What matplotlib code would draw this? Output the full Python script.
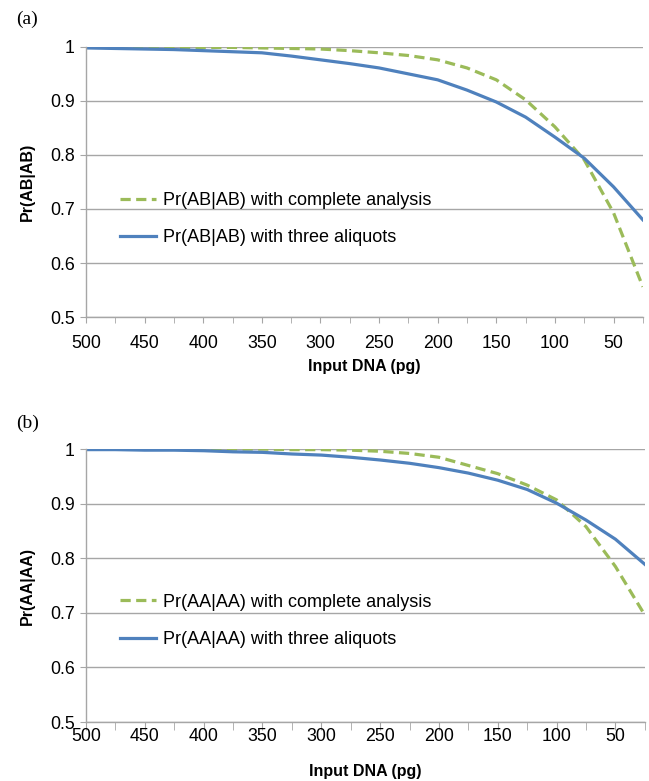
import numpy as np
import matplotlib.pyplot as plt

plt.rcParams['font.family'] = ['Liberation Sans', 'DejaVu Sans']

# input DNA (pg), 500 down to 25
dna = [500, 475, 450, 425, 400, 375, 350, 325, 300, 275, 250, 225, 200, 175,
       150, 125, 100, 75, 50, 25]

ab_complete = [1.000, 1.000, 1.000, 0.999, 0.999, 0.999, 0.998, 0.997, 0.996, 0.993,
               0.989, 0.984, 0.976, 0.961, 0.939, 0.902, 0.852, 0.791, 0.693, 0.556]
ab_three = [0.998, 0.997, 0.996, 0.995, 0.993, 0.991, 0.989, 0.983, 0.976, 0.969,
            0.961, 0.950, 0.939, 0.920, 0.898, 0.870, 0.833, 0.794, 0.741, 0.680]

aa_complete = [1.000, 1.000, 1.000, 1.000, 1.000, 1.000, 1.000, 0.999, 0.999, 0.998,
               0.996, 0.992, 0.985, 0.970, 0.955, 0.934, 0.907, 0.858, 0.785, 0.696]
aa_three = [0.999, 0.999, 0.998, 0.998, 0.997, 0.995, 0.994, 0.991, 0.989, 0.985,
            0.980, 0.974, 0.966, 0.956, 0.943, 0.926, 0.901, 0.870, 0.835, 0.789]

green = '#9BBB59'
blue = '#4F81BD'

fig = plt.figure(figsize=(6.49, 7.81), dpi=100)
ax1 = fig.add_axes([0.1325, 0.594, 0.858, 0.346])
ax2 = fig.add_axes([0.1325, 0.0755, 0.861, 0.3495])


def style(ax, comp, three, tag, panel, xpad, tlen, xlpad, leg_y, tag_y):
    ax.plot(dna, comp, color=green, lw=2.3, ls=(0, (3.2, 1.7)),
            label='Pr(%s|%s) with complete analysis' % (tag, tag))
    ax.plot(dna, three, color=blue, lw=2.3,
            label='Pr(%s|%s) with three aliquots' % (tag, tag))
    ax.set_xlim(500, 25)
    ax.set_ylim(0.5, 1.0)
    ax.set_xticks(np.arange(500, 49, -50))
    ax.set_xticks(dna, minor=True)
    ax.set_yticks([0.5, 0.6, 0.7, 0.8, 0.9, 1.0])
    ax.set_yticklabels(['0.5', '0.6', '0.7', '0.8', '0.9', '1'])
    ax.grid(axis='y', color='#a6a6a6', lw=1)
    ax.set_axisbelow(True)
    for s in ['top', 'right']:
        ax.spines[s].set_visible(False)
    for s in ['left', 'bottom']:
        ax.spines[s].set_color('#a6a6a6')
        ax.spines[s].set_linewidth(1)
    ax.tick_params(axis='both', which='both', color='#a6a6a6', labelsize=12.8,
                   length=4.5, direction='out')
    ax.tick_params(axis='x', which='both', pad=xpad, length=tlen)
    ax.set_xlabel('Input DNA (pg)', fontsize=11.5, fontweight='bold', labelpad=xlpad)
    ax.set_ylabel('Pr(%s|%s)' % (tag, tag), fontsize=11.5, fontweight='bold', labelpad=11)
    ax.legend(loc='lower left', bbox_to_anchor=(0.048, leg_y), frameon=False,
              fontsize=13, handlelength=2.0, handletextpad=0.4, labelspacing=1.12,
              borderaxespad=0)
    ax.text(-0.125, tag_y, panel, transform=ax.transAxes, fontsize=14,
            family='Liberation Serif', va='center')


style(ax1, ab_complete, ab_three, 'AB', '(a)', 8.5, 4.5, 4.7, 0.236, 1.10)
style(ax2, aa_complete, aa_three, 'AA', '(b)', -1.2, 5.5, 13.4, 0.245, 1.095)

fig.savefig('out.png', dpi=100)
